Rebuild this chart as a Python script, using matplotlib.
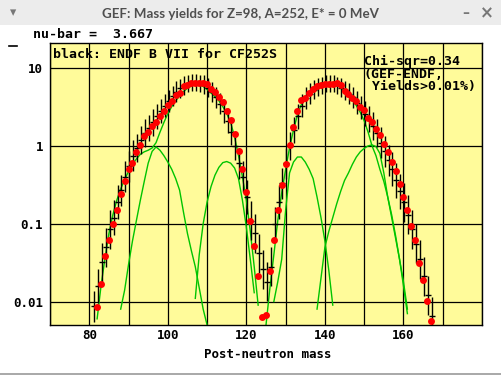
import numpy as np
import matplotlib.pyplot as plt
from matplotlib.patches import Rectangle
from matplotlib.lines import Line2D

plt.rcParams['font.family'] = 'DejaVu Sans Mono'
plt.rcParams['font.weight'] = 'bold'

# GEF calculated post-neutron mass yields (%), A = 82 .. 167
gef_mass = np.arange(82, 168)
gef_yield = [0.0085, 0.017, 0.038, 0.062, 0.10, 0.15, 0.24, 0.35, 0.50, 0.60,
             0.84, 1.02, 1.33, 1.51, 1.82, 2.03, 2.43, 2.8, 3.36, 3.74,
             4.5, 4.8, 5.9, 6.05, 6.4, 6.4, 6.5, 6.4, 6.2, 5.4,
             4.9, 4.25, 3.66, 2.84, 2.13, 1.44, 0.87, 0.51, 0.255, 0.107,
             0.052, 0.021, 0.0063, 0.0068, 0.025, 0.062, 0.15, 0.31, 0.58, 1.02,
             1.74, 2.79, 3.85, 4.08, 4.74, 5.33, 5.83, 6.0, 6.2, 6.3,
             6.3, 6.4, 6.1, 5.07, 4.6, 4.1, 3.78, 3.19, 2.89, 2.29,
             2.0, 1.64, 1.37, 1.05, 0.83, 0.62, 0.48, 0.32, 0.22, 0.15,
             0.094, 0.062, 0.031, 0.019, 0.0103, 0.0056]

# ENDF/B-VII evaluation for Cf252 SF, A = 81 .. 167
endf_mass = np.arange(81, 168)
endf_yield = [0.0087, 0.016, 0.032, 0.05, 0.085, 0.12, 0.19, 0.27, 0.4, 0.55,
              0.75, 0.95, 1.2, 1.45, 1.7, 2.0, 2.4, 2.8, 3.3, 3.8,
              4.4, 5.0, 5.5, 6.0, 6.3, 6.5, 6.6, 6.4, 6.1, 5.6,
              4.9, 4.2, 3.5, 2.8, 2.1, 1.5, 1.0, 0.6, 0.4, 0.22,
              0.11, 0.075, 0.042, 0.026, 0.018, 0.028, 0.1, 0.19, 0.33, 0.6,
              1.0, 1.6, 2.4, 3.3, 4.1, 4.7, 5.3, 5.7, 6.0, 6.3,
              6.4, 6.3, 6.0, 5.6, 5.2, 4.7, 4.2, 3.6, 3.1, 2.6,
              2.2, 1.8, 1.45, 1.1, 0.85, 0.65, 0.5, 0.36, 0.26, 0.19,
              0.13, 0.085, 0.055, 0.035, 0.021, 0.012, 0.0065]
# half length of the error bars, in decades
endf_dex = [0.2, 0.22, 0.25, 0.25, 0.25, 0.22, 0.22, 0.2, 0.2, 0.2,
            0.2, 0.18, 0.18, 0.18, 0.17, 0.17, 0.16, 0.15, 0.15, 0.14,
            0.13, 0.13, 0.12, 0.12, 0.11, 0.11, 0.11, 0.11, 0.12, 0.12,
            0.13, 0.13, 0.14, 0.15, 0.16, 0.17, 0.18, 0.2, 0.2, 0.22,
            0.25, 0.25, 0.25, 0.25, 0.25, 0.25, 0.22, 0.22, 0.2, 0.2,
            0.18, 0.17, 0.16, 0.15, 0.14, 0.13, 0.12, 0.12, 0.11, 0.11,
            0.11, 0.11, 0.11, 0.12, 0.12, 0.13, 0.14, 0.15, 0.15, 0.16,
            0.17, 0.18, 0.18, 0.2, 0.2, 0.2, 0.22, 0.22, 0.22, 0.25,
            0.25, 0.25, 0.25, 0.25, 0.25, 0.25, 0.25]

# fission channel components (green)
s2_light_mass = np.arange(82, 124)
s2_light = [0.006, 0.016, 0.036, 0.075, 0.13, 0.2, 0.28, 0.37, 0.47, 0.58,
            0.68, 0.78, 0.84, 0.88, 0.94, 1.1, 1.5, 2.0, 2.6, 3.2,
            3.8, 4.4, 5.0, 5.5, 5.9, 6.1, 6.1, 5.8, 5.3, 4.8,
            4.3, 3.8, 3.2, 2.6, 2.0, 1.3, 0.75, 0.4, 0.2, 0.08,
            0.028, 0.009]
s3_light_mass = np.arange(88, 112)
s3_light = [0.008, 0.014, 0.03, 0.06, 0.11, 0.2, 0.35, 0.6, 0.85, 0.97,
            0.88, 0.75, 0.62, 0.5, 0.38, 0.27, 0.14, 0.075, 0.045, 0.028,
            0.015, 0.008, 0.005, 0.004]
s1_light_mass = np.arange(107, 123)
s1_light = [0.011, 0.04, 0.1, 0.19, 0.3, 0.42, 0.53, 0.61, 0.63, 0.6,
            0.52, 0.38, 0.2, 0.09, 0.035, 0.013]
s1_heavy_mass = np.arange(127, 143)
s1_heavy = [0.01, 0.018, 0.035, 0.15, 0.45, 0.62, 0.72, 0.72, 0.62, 0.5,
            0.38, 0.22, 0.12, 0.06, 0.025, 0.009]
s3_heavy_mass = np.arange(138, 162)
s3_heavy = [0.008, 0.02, 0.05, 0.08, 0.12, 0.18, 0.26, 0.36, 0.45, 0.58,
            0.72, 0.84, 0.93, 1.0, 1.03, 0.98, 0.8, 0.45, 0.22, 0.12,
            0.065, 0.035, 0.018, 0.008]
s2_heavy_mass = np.arange(125, 162)
s2_heavy = [0.005, 0.015, 0.04, 0.11, 0.25, 0.5, 0.95, 1.6, 2.5, 3.4,
            4.2, 4.9, 5.4, 5.8, 6.0, 6.1, 6.1, 6.0, 5.9, 5.7,
            5.1, 4.5, 3.9, 3.3, 2.7, 2.1, 1.5, 1.0, 0.75, 0.5,
            0.35, 0.22, 0.13, 0.07, 0.035, 0.016, 0.007]

W, H = 502, 375
fig = plt.figure(figsize=(W / 100, H / 100), dpi=100)
fig.patch.set_facecolor('white')

# window decoration
fig.patches.append(Rectangle((0, 1 - 25 / H), 1, 25 / H, transform=fig.transFigure,
                             facecolor='#ececec', edgecolor='none'))
fig.text(240 / W, 1 - 14 / H, 'GEF: Mass yields for Z=98, A=252, E* = 0 MeV',
         ha='center', va='center', family='Lato', weight='bold', size=9.6,
         color='#4f4f4f')
fig.text(13 / W, 1 - 13 / H, '▾', ha='center', va='center', family='DejaVu Sans',
         size=9, color='#777777')
fig.text(466 / W, 1 - 13 / H, '–', ha='center', va='center', family='DejaVu Sans',
         size=10, color='#777777')
fig.text(487 / W, 1 - 13 / H, '×', ha='center', va='center', family='DejaVu Sans',
         size=12, color='#777777')
fig.lines.append(Line2D([0, 1], [1 / H, 1 / H], transform=fig.transFigure,
                        color='#9a9a9a', lw=1.2))
fig.lines.append(Line2D([9 / W, 17 / W], [1 - 46 / H, 1 - 46 / H],
                        transform=fig.transFigure, color='black', lw=1.2))

ax = fig.add_axes([50 / W, 50 / H, 432 / W, 282 / H])
ax.set_facecolor('#fffb9a')
ax.set_yscale('log')
ax.set_xlim(70, 180)
ax.set_ylim(0.005, 21)

ax.set_xticks(range(70, 181, 10))
ax.set_xticklabels(['', '80', '', '100', '', '120', '', '140', '', '160', '', ''])
ax.set_yticks([0.01, 0.1, 1, 10])
ax.set_yticklabels(['0.01', '0.1', '1', '10'])
ax.minorticks_off()
ax.tick_params(length=0, labelsize=9)
ax.tick_params(axis='x', pad=3)
ax.tick_params(axis='y', pad=5)
ax.grid(True, color='black', lw=0.9)
for s in ax.spines.values():
    s.set_color('black')
    s.set_linewidth(1.0)

green = '#00c400'
for m, y in [(s2_light_mass, s2_light), (s3_light_mass, s3_light),
             (s1_light_mass, s1_light), (s1_heavy_mass, s1_heavy),
             (s3_heavy_mass, s3_heavy), (s2_heavy_mass, s2_heavy)]:
    ax.plot(m, y, color=green, lw=1.0, zorder=2)

ey = np.array(endf_yield)
fac = 10 ** np.array(endf_dex)
yerr = [ey - ey / fac, ey * fac - ey]
ax.errorbar(endf_mass + 0.2, ey, yerr=yerr, fmt='_', color='black',
            ms=4, elinewidth=1.0, capsize=0, zorder=3)
ax.plot(gef_mass, gef_yield, 'o', color='#ff0000', ms=5, mec='none', zorder=4)

fig.text(53 / W, 1 - 55 / H, 'black: ENDF B VII for CF252S', va='center', size=9.5)
fig.text(364 / W, 1 - 61.7 / H, 'Chi-sqr=0.34', va='center', size=9.5)
fig.text(364 / W, 1 - 74.3 / H, '(GEF-ENDF,', va='center', size=9.5)
fig.text(364 / W, 1 - 86.5 / H, ' Yields>0.01%)', va='center', size=9.5)
fig.text(33 / W, 1 - 35 / H, 'nu-bar =  3.667', va='center', size=9.5)
fig.text(268 / W, 1 - 354 / H, 'Post-neutron mass', ha='center', va='center', size=9)

fig.savefig('out.png', dpi=100)
